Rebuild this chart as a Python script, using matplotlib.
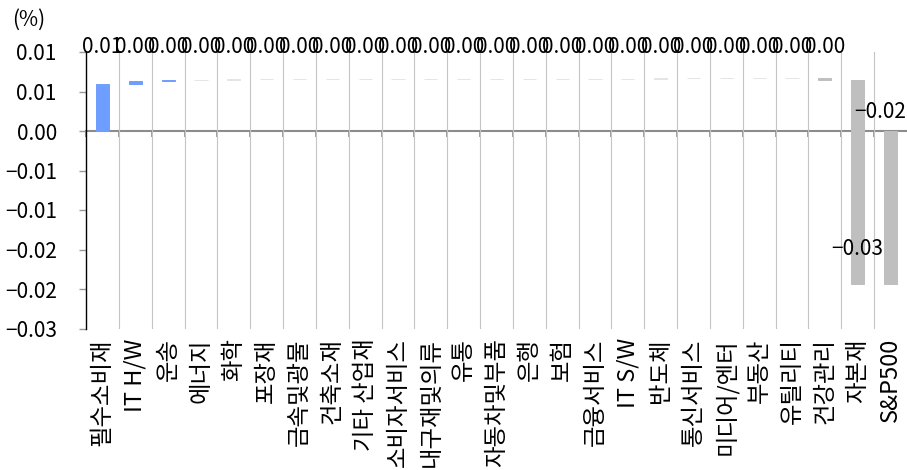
import matplotlib
matplotlib.use("Agg")
import matplotlib.pyplot as plt
import numpy as np
import re

plt.rcParams['font.family'] = ['Noto Sans CJK KR', 'DejaVu Sans']
plt.rcParams['axes.unicode_minus'] = True

sectors = ['필수소비재', 'IT H/W', '운송', '에너지', '화학', '포장재', '금속및광물', '건축소재',
           '기타 산업재', '소비자서비스', '내구재및의류', '유통', '자동차및부품', '은행', '보험',
           '금융서비스', 'IT S/W', '반도체', '통신서비스', '미디어/엔터', '부동산', '유틸리티',
           '건강관리', '자본재']
contrib = [0.0059, 0.0004, 0.0002, 0.00001, 0.00001, 0.00001, 0.00001, 0.00001,
           0.00001, 0.00001, 0.00001, 0.00001, 0.00001, 0.00001, 0.00001,
           0.00001, 0.00001, 0.00001, 0.00001, 0.00001, 0.00001, 0.00001,
           -0.0002, -0.0258]
total_label = 'S&P500'
yticks = [0.01, 0.005, 0.0, -0.005, -0.01, -0.015, -0.02, -0.025]
ytick_labels = ['0.01', '0.01', '0.00', '−0.01', '−0.01', '−0.02', '−0.02', '−0.03']

labels = sectors + [total_label]
vals = np.array(contrib)
total = vals.sum()
cum = np.concatenate([[0], np.cumsum(vals)[:-1]])
heights = np.concatenate([vals, [total]])
bottoms = np.concatenate([cum, [0]])

BLUE = '#6e9eff'
GRAY = '#bfbfbf'
LIGHT = '#e4e4e4'
colors = []
for v in heights:
    if abs(v) < 5e-5:
        colors.append(LIGHT)
    elif v > 0:
        colors.append(BLUE)
    else:
        colors.append(GRAY)

NUM_FS = 15
fig = plt.figure(figsize=(9.07, 4.70), dpi=100)
ax = fig.add_axes([86/907, 1-328.5/470, 1-86/907, (328.5-52)/470])

x = np.arange(len(labels))
ax.set_xlim(-0.5, len(labels)-0.5)
ax.set_ylim(-0.025, 0.01)

# vertical grid at category boundaries
ax.set_xticks(x[:-1] + 0.5, minor=True)
ax.grid(True, which='minor', axis='x', color='#c4c4c4', linewidth=0.8)
ax.tick_params(axis='x', which='minor', length=0)
ax.set_axisbelow(True)

ax.bar(x, heights, bottom=bottoms, width=0.4, color=colors, edgecolor=colors,
       linewidth=0.7, zorder=3)

ax.set_xticks(x)
ax.set_xticklabels(labels, rotation=90)
for t in ax.get_xticklabels():
    t.set_fontsize(16.8 if re.search('[가-힣]', t.get_text()) else 17)
ax.tick_params(axis='x', which='major', length=0, pad=7)

ax.set_yticks(yticks)
ax.set_yticklabels(ytick_labels, fontsize=NUM_FS)
ax.tick_params(axis='y', length=5, color='#9a9a9a', pad=16, width=1)

for s in ['top', 'right', 'bottom']:
    ax.spines[s].set_visible(False)
ax.spines['left'].set_color('black')
ax.spines['left'].set_linewidth(1)

# zero axis with boundary ticks
sec = ax.secondary_xaxis(0.0, transform=ax.transData)
sec.set_xticks(np.concatenate([[-0.5], x[:-1] + 0.5]))
sec.set_xticklabels([])
sec.tick_params(axis='x', direction='out', length=4, color='#8c8c8c', width=1.2)
sec.spines['bottom'].set_color('#8c8c8c')
sec.spines['bottom'].set_linewidth(1.5)

def fmt(v):
    r = round(v, 2)
    if abs(r) < 0.005:
        r = 0.0
    s = f"{r:.2f}"
    return s.replace('-', '−')

for i in range(len(sectors) - 1):
    ax.text(x[i], 0.01057, fmt(heights[i]), ha='center', va='center', fontsize=NUM_FS,
            clip_on=False, zorder=5)
ax.text(x[-2], -0.0149, fmt(heights[-2]), ha='center', va='center', fontsize=NUM_FS, zorder=5)
ax.text(x[-1] + 0.48, 0.0024, fmt(total), ha='right', va='center', fontsize=NUM_FS, zorder=5)

fig.text(12/907, 1-20/470, '(%)', ha='left', va='center', fontsize=NUM_FS)

fig.savefig('out.png', dpi=100)
